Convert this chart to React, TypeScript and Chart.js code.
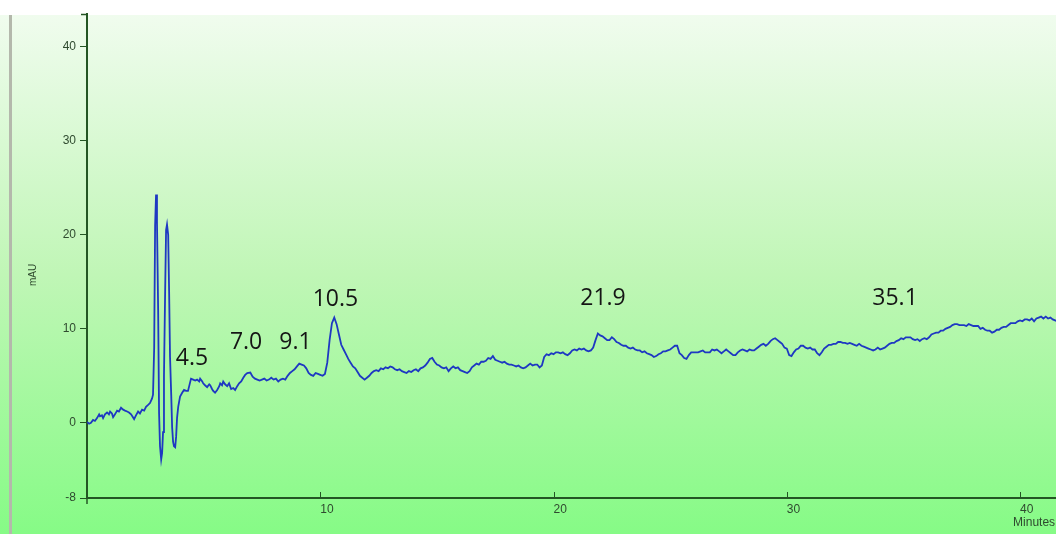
import React, { useEffect, useRef } from "react";
import { Chart, registerables } from "chart.js";

Chart.register(...registerables);

// Early part of the trace (solvent front region, read at irregular times)
const earlyMinutes = [
  0.0, 0.09, 0.17, 0.26, 0.34, 0.43, 0.52, 0.56, 0.64, 0.69, 0.77, 0.86, 0.94, 0.99, 1.07, 1.12, 1.2, 1.29, 1.37, 1.46,
  1.55, 1.63, 1.72, 1.8, 1.89, 1.97, 2.02, 2.1, 2.19, 2.27, 2.36, 2.45, 2.53, 2.62, 2.7,
  2.79, 2.83, 2.88, 2.92, 2.96, 3.0, 3.05, 3.09, 3.13, 3.18, 3.22, 3.26, 3.3, 3.35, 3.39, 3.43, 3.48, 3.52, 3.56, 3.61,
  3.65, 3.69, 3.73, 3.78, 3.82, 3.86, 3.91,
  3.99, 4.08, 4.16, 4.25, 4.33, 4.42, 4.46, 4.55, 4.64, 4.72, 4.81, 4.85, 4.94, 4.98, 5.06, 5.15, 5.24,
  5.28, 5.36, 5.41, 5.49, 5.58, 5.67, 5.71, 5.79, 5.84, 5.92, 6.01, 6.09,
  6.18, 6.27, 6.35, 6.44, 6.52, 6.61, 6.7, 6.78, 6.87,
];
const earlyMAU = [
  0.1, -0.1, 0.0, 0.3, 0.2, 0.5, 0.9, 0.7, 0.8, 0.5, 0.9, 1.1, 0.9, 1.2, 1.0, 0.6, 0.9, 1.3, 1.2, 1.6,
  1.4, 1.3, 1.2, 1.1, 0.9, 0.6, 0.4, 0.8, 1.2, 1.0, 1.4, 1.3, 1.7, 1.9, 2.1,
  2.6, 3.0, 8.0, 21.0, 24.3, 21.4, 12.0, 1.0, -2.5, -3.9, -3.2, -1.0, 5.0, 14.0, 20.5, 21.1, 20.0, 14.0, 7.0, 3.0,
  -0.5, -2.0, -2.5, -2.6, -1.5, 0.5, 1.7,
  2.8, 3.2, 3.5, 3.4, 3.4, 4.3, 4.7, 4.6, 4.5, 4.6, 4.4, 4.7, 4.4, 4.2, 4.0, 3.8, 4.1,
  4.0, 3.6, 3.4, 3.2, 3.5, 3.9, 4.2, 4.0, 4.4, 4.1, 3.9, 4.2,
  3.6, 3.7, 3.5, 3.9, 4.2, 4.4, 4.8, 5.1, 5.3,
];

// Main part of the trace, read every 0.1 minute
const mainMinutes = [
  7.0, 7.1, 7.2, 7.3, 7.4, 7.5, 7.6, 7.7, 7.8, 7.9,
  8.0, 8.1, 8.2, 8.3, 8.4, 8.5, 8.6, 8.7, 8.8, 8.9,
  9.0, 9.1, 9.2, 9.3, 9.4, 9.5, 9.6, 9.7, 9.8, 9.9,
  10.0, 10.1, 10.2, 10.3, 10.4, 10.5, 10.6, 10.7, 10.8, 10.9,
  11.0, 11.1, 11.2, 11.3, 11.4, 11.5, 11.6, 11.7, 11.8, 11.9,
  12.0, 12.1, 12.2, 12.3, 12.4, 12.5, 12.6, 12.7, 12.8, 12.9,
  13.0, 13.1, 13.2, 13.3, 13.4, 13.5, 13.6, 13.7, 13.8, 13.9,
  14.0, 14.1, 14.2, 14.3, 14.4, 14.5, 14.6, 14.7, 14.8, 14.9,
  15.0, 15.1, 15.2, 15.3, 15.4, 15.5, 15.6, 15.7, 15.8, 15.9,
  16.0, 16.1, 16.2, 16.3, 16.4, 16.5, 16.6, 16.7, 16.8, 16.9,
  17.0, 17.1, 17.2, 17.3, 17.4, 17.5, 17.6, 17.7, 17.8, 17.9,
  18.0, 18.1, 18.2, 18.3, 18.4, 18.5, 18.6, 18.7, 18.8, 18.9,
  19.0, 19.1, 19.2, 19.3, 19.4, 19.5, 19.6, 19.7, 19.8, 19.9,
  20.0, 20.1, 20.2, 20.3, 20.4, 20.5, 20.6, 20.7, 20.8, 20.9,
  21.0, 21.1, 21.2, 21.3, 21.4, 21.5, 21.6, 21.7, 21.8, 21.9,
  22.0, 22.1, 22.2, 22.3, 22.4, 22.5, 22.6, 22.7, 22.8, 22.9,
  23.0, 23.1, 23.2, 23.3, 23.4, 23.5, 23.6, 23.7, 23.8, 23.9,
  24.0, 24.1, 24.2, 24.3, 24.4, 24.5, 24.6, 24.7, 24.8, 24.9,
  25.0, 25.1, 25.2, 25.3, 25.4, 25.5, 25.6, 25.7, 25.8, 25.9,
  26.0, 26.1, 26.2, 26.3, 26.4, 26.5, 26.6, 26.7, 26.8, 26.9,
  27.0, 27.1, 27.2, 27.3, 27.4, 27.5, 27.6, 27.7, 27.8, 27.9,
  28.0, 28.1, 28.2, 28.3, 28.4, 28.5, 28.6, 28.7, 28.8, 28.9,
  29.0, 29.1, 29.2, 29.3, 29.4, 29.5, 29.6, 29.7, 29.8, 29.9,
  30.0, 30.1, 30.2, 30.3, 30.4, 30.5, 30.6, 30.7, 30.8, 30.9,
  31.0, 31.1, 31.2, 31.3, 31.4, 31.5, 31.6, 31.7, 31.8, 31.9,
  32.0, 32.1, 32.2, 32.3, 32.4, 32.5, 32.6, 32.7, 32.8, 32.9,
  33.0, 33.1, 33.2, 33.3, 33.4, 33.5, 33.6, 33.7, 33.8, 33.9,
  34.0, 34.1, 34.2, 34.3, 34.4, 34.5, 34.6, 34.7, 34.8, 34.9,
  35.0, 35.1, 35.2, 35.3, 35.4, 35.5, 35.6, 35.7, 35.8, 35.9,
  36.0, 36.1, 36.2, 36.3, 36.4, 36.5, 36.6, 36.7, 36.8, 36.9,
  37.0, 37.1, 37.2, 37.3, 37.4, 37.5, 37.6, 37.7, 37.8, 37.9,
  38.0, 38.1, 38.2, 38.3, 38.4, 38.5, 38.6, 38.7, 38.8, 38.9,
  39.0, 39.1, 39.2, 39.3, 39.4, 39.5, 39.6, 39.7, 39.8, 39.9,
  40.0, 40.1, 40.2, 40.3, 40.4, 40.5, 40.6, 40.7, 40.8, 40.9,
  41.0, 41.1, 41.2, 41.3, 41.4, 41.5, 41.6,
];
const mainMAU = [
  5.35, 4.9, 4.7, 4.6, 4.5, 4.6, 4.7, 4.5, 4.6, 4.8,
  4.6, 4.7, 4.4, 4.6, 4.7, 4.6, 5.0, 5.3, 5.5, 5.7,
  6.0, 6.3, 6.2, 6.1, 5.8, 5.3, 5.1, 5.0, 5.3, 5.2,
  5.1, 5.0, 5.2, 6.4, 8.8, 10.6, 11.2, 10.5, 9.4, 8.3,
  7.8, 7.3, 6.8, 6.4, 6.0, 5.8, 5.4, 5.0, 4.8, 4.6,
  4.8, 5.0, 5.3, 5.5, 5.6, 5.5, 5.8, 5.7, 5.9, 5.8,
  6.0, 5.9, 5.7, 5.6, 5.7, 5.5, 5.4, 5.3, 5.5, 5.4,
  5.6, 5.7, 5.5, 5.8, 5.9, 6.1, 6.4, 6.8, 6.9, 6.5,
  6.2, 6.1, 5.9, 5.8, 5.9, 5.5, 5.8, 6.0, 5.8, 5.9,
  5.6, 5.5, 5.4, 5.3, 5.5, 5.9, 6.1, 6.3, 6.2, 6.5,
  6.5, 6.6, 6.9, 6.8, 7.1, 6.7, 6.6, 6.5, 6.4, 6.5,
  6.3, 6.2, 6.2, 6.1, 6.0, 6.1, 5.9, 5.8, 5.9, 6.1,
  6.3, 6.1, 6.2, 6.2, 5.9, 6.1, 7.0, 7.3, 7.2, 7.4,
  7.3, 7.5, 7.5, 7.4, 7.5, 7.3, 7.2, 7.4, 7.7, 7.8,
  7.7, 7.9, 7.8, 7.9, 7.7, 7.6, 7.7, 8.0, 8.8, 9.5,
  9.3, 9.2, 9.0, 8.8, 8.8, 9.1, 8.9, 8.6, 8.5, 8.3,
  8.2, 8.2, 8.0, 7.9, 8.0, 7.8, 7.7, 7.7, 7.5, 7.6,
  7.4, 7.3, 7.2, 7.0, 7.1, 7.3, 7.4, 7.6, 7.6, 7.7,
  7.8, 8.0, 8.2, 8.2, 7.4, 7.2, 6.9, 6.8, 7.2, 7.5,
  7.5, 7.5, 7.5, 7.6, 7.7, 7.5, 7.5, 7.5, 7.8, 7.7,
  7.8, 7.6, 7.4, 7.6, 7.8, 7.6, 7.4, 7.2, 7.2, 7.5,
  7.7, 7.8, 7.7, 7.6, 7.8, 7.7, 7.7, 7.9, 8.1, 8.3,
  8.4, 8.2, 8.4, 8.7, 8.9, 9.0, 8.8, 8.6, 8.4, 8.0,
  7.9, 7.2, 7.1, 7.5, 7.8, 7.9, 8.2, 8.2, 8.0, 7.9,
  8.0, 7.8, 7.8, 7.4, 7.2, 7.5, 7.9, 8.1, 8.3, 8.3,
  8.4, 8.4, 8.6, 8.6, 8.5, 8.5, 8.4, 8.5, 8.4, 8.3,
  8.2, 8.4, 8.2, 8.1, 8.0, 7.9, 7.8, 7.7, 7.8, 8.0,
  7.8, 7.9, 8.0, 8.2, 8.4, 8.5, 8.5, 8.7, 8.8, 9.0,
  8.9, 9.1, 9.1, 9.1, 8.9, 8.8, 8.9, 8.7, 8.9, 9.0,
  8.9, 9.1, 9.4, 9.5, 9.6, 9.6, 9.8, 9.8, 10.0, 10.1,
  10.2, 10.4, 10.5, 10.5, 10.4, 10.4, 10.4, 10.3, 10.5, 10.4,
  10.3, 10.3, 10.3, 10.0, 10.1, 9.9, 9.8, 9.8, 9.6, 9.7,
  9.9, 9.9, 10.1, 10.2, 10.2, 10.4, 10.6, 10.6, 10.6, 10.8,
  10.9, 10.8, 11.0, 11.0, 10.9, 11.1, 10.8, 11.1, 11.2, 11.3,
  11.1, 11.3, 11.1, 11.2, 11.0, 10.9, 10.8,
];

const yTickValues = [-8, 0, 10, 20, 30, 40];
const xTickValues = [10, 20, 30, 40];

const peakLabels = ["4.5", "7.0", "9.1", "10.5", "21.9", "35.1"];
const peakLabelMinutes = [4.5, 6.82, 8.94, 10.65, 22.12, 34.64];
const peakLabelMAU = [6.9, 8.5, 8.5, 13.1, 13.2, 13.2];

const AXIS_COLOR = "#245624";
const LABEL_COLOR = "#2f4a2f";

const backgroundPlugin = {
  id: "bgPlugin",
  beforeDraw(chart: any) {
    const { ctx, width, height } = chart;
    ctx.save();
    ctx.fillStyle = "#ffffff";
    ctx.fillRect(0, 0, width, height);
    const g = ctx.createLinearGradient(0, 15, 0, height);
    g.addColorStop(0, "#f0fcee");
    g.addColorStop(0.5, "#c0f6b6");
    g.addColorStop(1, "#86fb86");
    ctx.fillStyle = g;
    ctx.fillRect(0, 15, width, height - 15);
    ctx.fillStyle = "#b4b8ac";
    ctx.fillRect(9, 15, 3, height - 15);
    ctx.restore();
  },
};

const overlayPlugin = {
  id: "overlayPlugin",
  afterDraw(chart: any) {
    const { ctx, scales, chartArea } = chart;
    const xs = scales.x;
    const ys = scales.y;
    ctx.save();
    // inward x ticks
    ctx.strokeStyle = AXIS_COLOR;
    ctx.lineWidth = 1;
    xTickValues.forEach((v) => {
      const px = Math.round(xs.getPixelForValue(v)) + 0.5;
      ctx.beginPath();
      ctx.moveTo(px, chartArea.bottom);
      ctx.lineTo(px, chartArea.bottom - 6);
      ctx.stroke();
    });
    // y axis extension below x axis and top tick
    ctx.lineWidth = 1.5;
    ctx.beginPath();
    ctx.moveTo(chartArea.left, chartArea.bottom);
    ctx.lineTo(chartArea.left, chartArea.bottom + 6);
    ctx.stroke();
    ctx.beginPath();
    ctx.moveTo(chartArea.left - 6, chartArea.top + 0.5);
    ctx.lineTo(chartArea.left, chartArea.top + 0.5);
    ctx.stroke();
    // y axis title
    ctx.fillStyle = LABEL_COLOR;
    ctx.font = "10px Arial";
    ctx.textAlign = "center";
    ctx.textBaseline = "middle";
    ctx.save();
    ctx.translate(33, (chartArea.top + chartArea.bottom) / 2 + 19);
    ctx.rotate(-Math.PI / 2);
    ctx.fillText("mAU", 0, 0);
    ctx.restore();
    // x axis unit
    ctx.font = "12px Arial";
    ctx.textAlign = "left";
    ctx.textBaseline = "middle";
    ctx.fillText("Minutes", xs.getPixelForValue(40) - 7, chartArea.bottom + 25);
    // peak labels
    ctx.fillStyle = "#151515";
    ctx.font = "23px 'Open Sans'";
    ctx.textAlign = "center";
    ctx.textBaseline = "middle";
    peakLabels.forEach((t, i) => {
      ctx.fillText(t, xs.getPixelForValue(peakLabelMinutes[i]), ys.getPixelForValue(peakLabelMAU[i]));
    });
    ctx.restore();
  },
};

export default function App() {
  const canvasRef = useRef<HTMLCanvasElement>(null);

  useEffect(() => {
    const points = [
      ...earlyMinutes.map((t, i) => ({ x: t, y: earlyMAU[i] })),
      ...mainMinutes.map((t, i) => ({ x: t, y: mainMAU[i] })),
    ];
    const chart = new Chart(canvasRef.current as HTMLCanvasElement, {
      type: "line",
      data: {
        datasets: [
          {
            data: points,
            borderColor: "#1e38c2",
            borderWidth: 1.8,
            pointRadius: 0,
            tension: 0,
            fill: false,
          },
        ],
      },
      options: {
        animation: false,
        responsive: false,
        maintainAspectRatio: false,
        layout: { padding: { top: 14, right: 0, bottom: 0, left: 0 } },
        plugins: {
          legend: { display: false },
          tooltip: { enabled: false },
        },
        scales: {
          x: {
            type: "linear",
            min: 0,
            max: 41.54,
            afterBuildTicks: (s: any) => {
              s.ticks = xTickValues.map((v) => ({ value: v }));
            },
            afterFit: (s: any) => {
              s.height = 36;
            },
            grid: { display: false, drawTicks: false },
            border: { display: true, color: AXIS_COLOR, width: 2 },
            ticks: {
              align: "start",
              padding: 4,
              color: LABEL_COLOR,
              font: { family: "Arial", size: 12 },
              maxRotation: 0,
              autoSkip: false,
              callback: (v: any) => String(v),
            },
          },
          y: {
            type: "linear",
            min: -8,
            max: 43.5,
            afterBuildTicks: (s: any) => {
              s.ticks = yTickValues.map((v) => ({ value: v }));
            },
            afterFit: (s: any) => {
              s.width = 87;
            },
            grid: {
              display: true,
              drawOnChartArea: false,
              drawTicks: true,
              tickLength: 7,
              color: AXIS_COLOR,
              lineWidth: 1,
            },
            border: { display: true, color: AXIS_COLOR, width: 2 },
            ticks: {
              padding: 4,
              color: LABEL_COLOR,
              font: { family: "Arial", size: 12 },
              autoSkip: false,
              callback: (v: any) => String(v),
            },
          },
        },
      },
      plugins: [backgroundPlugin, overlayPlugin],
    } as any);
    return () => chart.destroy();
  }, []);

  return (
    <div style={{ position: "fixed", left: 0, top: 0, width: 1056, height: 534 }}>
      <canvas ref={canvasRef} width={1056} height={534} style={{ display: "block" }} />
    </div>
  );
}
